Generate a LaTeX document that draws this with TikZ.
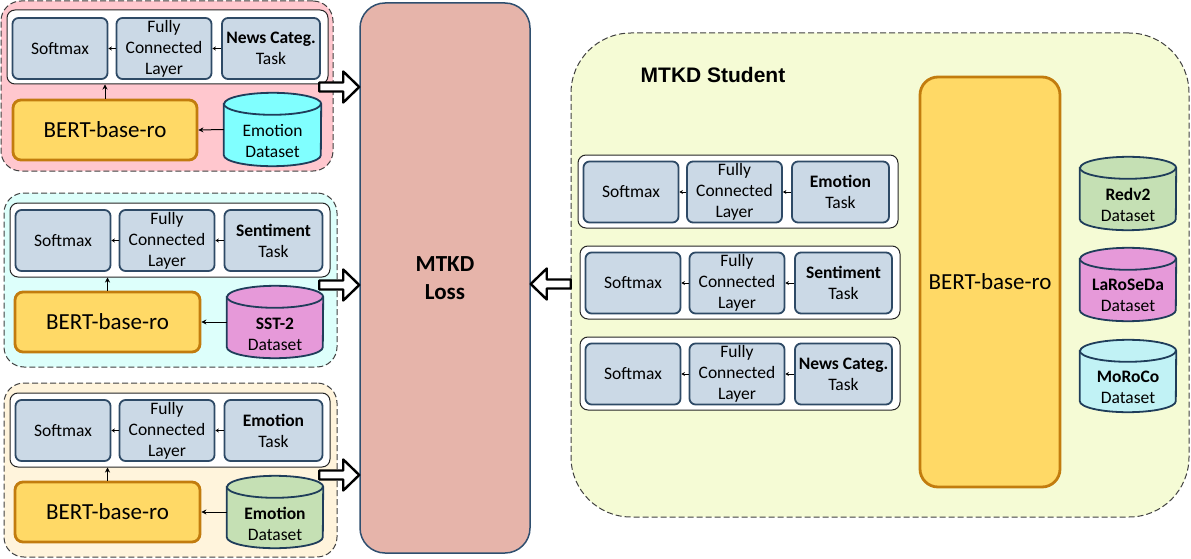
\documentclass[tikz,border=0pt]{standalone}
\usepackage{fontspec}
\setmainfont{Carlito}
\newfontfamily\arialfont{Liberation Sans}
\usetikzlibrary{arrows.meta}
\definecolor{pinkbg}{HTML}{FFC7CE}
\definecolor{cyanbg}{HTML}{DDFFFB}
\definecolor{yellowbg}{HTML}{FFF4DC}
\definecolor{studentbg}{HTML}{F5FBD5}
\definecolor{boxfill}{HTML}{CBD9E6}
\definecolor{boxdraw}{HTML}{2E4A66}
\definecolor{bertfill}{HTML}{FFD966}
\definecolor{bertdraw}{HTML}{C27C0E}
\definecolor{cylline}{HTML}{1F3D5A}
\definecolor{cylcyan}{HTML}{80FFFF}
\definecolor{cylmag}{HTML}{E699D9}
\definecolor{cylgreen}{HTML}{C5E0B4}
\definecolor{cyllcyan}{HTML}{C1F2F5}
\definecolor{lossfill}{HTML}{E6B4AA}
\definecolor{lossdraw}{HTML}{2F4F6F}
\tikzset{
  frame/.style={draw=black!75, dashed, dash pattern=on 6pt off 3pt, line width=1pt, rounded corners=20pt, inner sep=0pt},
  wbox/.style={draw=black!85, fill=white, rounded corners=8pt, line width=1pt, minimum height=74pt, inner sep=0pt},
  tbox/.style={draw=boxdraw, fill=boxfill, rounded corners=6pt, line width=1.8pt, minimum height=61pt, minimum width=95pt, inner sep=0pt, align=center, font=\fontsize{17.5}{21}\selectfont},
  bert/.style={draw=bertdraw, fill=bertfill, rounded corners=8pt, line width=2.8pt, minimum width=184pt, minimum height=60pt, inner sep=0pt, font=\fontsize{23}{28}\selectfont},
  cylspot/.style={inner sep=0pt, minimum width=97pt, minimum height=73pt},
  cyltext/.style={align=center, inner sep=0pt, font=\fontsize{17.5}{21}\selectfont},
  cylline/.style={draw=cylline, line width=1.8pt},
  arr/.style={-{Stealth[length=5pt,width=5pt]}, line width=1pt},
  tiny/.style={-{Stealth[length=3.5pt,width=4pt]}, line width=0.8pt},
  fatarrow/.pic={\draw[line width=2.4pt, fill=white, line join=round] (-40,-4.5) -- (-16,-4.5) -- (-16,-15.5) -- (0,0) -- (-16,15.5) -- (-16,4.5) -- (-40,4.5) -- cycle;}
}
% #1 node name, #2 fill colour, #3 half width (pt)
\newcommand\drawcyl[3]{%
  \begin{scope}[y=1pt]
  \draw[cylline, fill=#2] ([yshift=-11pt]#1.north west) -- ([yshift=11pt]#1.south west)
     arc[start angle=180, end angle=360, x radius=#3pt, y radius=11pt]
     -- ([yshift=-11pt]#1.north east)
     arc[start angle=0, end angle=180, x radius=#3pt, y radius=11pt] -- cycle;
  \draw[cylline] ([yshift=-11pt]#1.north west)
     arc[start angle=180, end angle=360, x radius=#3pt, y radius=11pt];
  \end{scope}}
\begin{document}
\begin{tikzpicture}[x=1pt,y=-1pt]
\useasboundingbox (0,0) rectangle (1191,559);
% ---------- Teacher 1 ----------
\node[frame, fill=pinkbg, minimum width=332pt, minimum height=170pt] (T1) at (167,86) {};
\node[wbox, minimum width=321pt] (i1) at (167.5,47) {};
\node[tbox] (s1) at (60,48.5) {Softmax};
\node[tbox] (f1) at (164,48.5) {Fully\\Connected\\Layer};
\node[tbox, minimum width=98pt] (k1) at (271,48.5) {\textbf{News Categ.}\\Task};
\node[bert] (b1) at (105,130) {BERT-base-ro};
\node[cylspot] (d1) at (272.5,129.5) {};
\drawcyl{d1}{cylcyan}{48.5}
\node[cyltext] (d1t) at ([yshift=-12pt]d1.center) {Emotion\\Dataset};
\draw[tiny] (f1.west) -- (s1.east);
\draw[tiny] (k1.west) -- (f1.east);
\draw[arr] (d1.west) -- (b1.east);
\draw[arr] (b1.north) -- (b1.north |- i1.south);
% ---------- Teacher 2 ----------
\node[frame, fill=cyanbg, minimum width=333pt, minimum height=174pt] (T2) at (170.5,280) {};
\node[wbox, minimum width=320pt] (i2) at (170,240) {};
\node[tbox] (s2) at (63,240.5) {Softmax};
\node[tbox] (f2) at (167,240.5) {Fully\\Connected\\Layer};
\node[tbox, minimum width=98pt] (k2) at (273.5,240.5) {\textbf{Sentiment}\\Task};
\node[bert, minimum width=185pt] (b2) at (107.5,322) {BERT-base-ro};
\node[cylspot, minimum width=96pt, minimum height=72pt] (d2) at (275,322) {};
\drawcyl{d2}{cylmag}{48}
\node[cyltext] (d2t) at ([yshift=-12pt]d2.center) {\textbf{SST-2}\\Dataset};
\draw[tiny] (f2.west) -- (s2.east);
\draw[tiny] (k2.west) -- (f2.east);
\draw[arr] (d2.west) -- (b2.east);
\draw[arr] (b2.north) -- (b2.north |- i2.south);
% ---------- Teacher 3 ----------
\node[frame, fill=yellowbg, minimum width=333pt, minimum height=174pt] (T3) at (170.5,470) {};
\node[wbox, minimum width=320pt] (i3) at (170,430) {};
\node[tbox] (s3) at (63,430.5) {Softmax};
\node[tbox] (f3) at (167,430.5) {Fully\\Connected\\Layer};
\node[tbox, minimum width=98pt] (k3) at (273.5,430.5) {\textbf{Emotion}\\Task};
\node[bert, minimum width=185pt] (b3) at (107.5,512) {BERT-base-ro};
\node[cylspot, minimum width=96pt, minimum height=72pt] (d3) at (275,512) {};
\drawcyl{d3}{cylgreen}{48}
\node[cyltext] (d3t) at ([yshift=-12pt]d3.center) {\textbf{Emotion}\\Dataset};
\draw[tiny] (f3.west) -- (s3.east);
\draw[tiny] (k3.west) -- (f3.east);
\draw[arr] (d3.west) -- (b3.east);
\draw[arr] (b3.north) -- (b3.north |- i3.south);
% ---------- MTKD Loss ----------
\node[draw=lossdraw, fill=lossfill, line width=1.5pt, rounded corners=25pt, minimum width=170pt, minimum height=550pt, inner sep=0pt, align=center, font=\bfseries\fontsize{23}{28}\selectfont] (loss) at (445,278) {MTKD\\Loss};
% ---------- Student ----------
\node[frame, fill=studentbg, rounded corners=60pt, minimum width=618pt, minimum height=484pt] (S) at (880,275) {};
\node[font=\arialfont\bfseries\fontsize{21}{25}\selectfont] (stitle) at (713,75) {MTKD Student};
% row 1
\node[wbox, minimum width=320pt, minimum height=73pt] (r1) at (738,191.5) {};
\node[tbox] (rs1) at (631,192) {Softmax};
\node[tbox] (rf1) at (734.5,192) {Fully\\Connected\\Layer};
\node[tbox, minimum width=97pt] (rk1) at (840.5,192) {\textbf{Emotion}\\Task};
\draw[tiny] (rf1.west) -- (rs1.east);
\draw[tiny] (rk1.west) -- (rf1.east);
% row 2
\node[wbox, minimum width=320pt, minimum height=73pt] (r2) at (740,282.5) {};
\node[tbox] (rs2) at (633,283) {Softmax};
\node[tbox] (rf2) at (737,283) {Fully\\Connected\\Layer};
\node[tbox, minimum width=97pt] (rk2) at (843.5,283) {\textbf{Sentiment}\\Task};
\draw[tiny] (rf2.west) -- (rs2.east);
\draw[tiny] (rk2.west) -- (rf2.east);
% row 3
\node[wbox, minimum width=320pt, minimum height=73pt] (r3) at (740,373.5) {};
\node[tbox] (rs3) at (633,374) {Softmax};
\node[tbox] (rf3) at (737,374) {Fully\\Connected\\Layer};
\node[tbox, minimum width=97pt] (rk3) at (843.5,374) {\textbf{News Categ.}\\Task};
\draw[tiny] (rf3.west) -- (rs3.east);
\draw[tiny] (rk3.west) -- (rf3.east);
% student BERT and datasets
\node[bert, rounded corners=18pt, minimum width=140pt, minimum height=410pt] (sb) at (990,282) {BERT-base-ro};
\node[cylspot, minimum width=96pt] (sd1) at (1128,193.5) {};
\drawcyl{sd1}{cylgreen}{48}
\node[cyltext] (sd1t) at ([yshift=-11pt]sd1.center) {\textbf{Redv2}\\Dataset};
\node[cylspot, minimum width=96pt] (sd2) at (1128,284.5) {};
\drawcyl{sd2}{cylmag}{48}
\node[cyltext] (sd2t) at ([yshift=-11pt]sd2.center) {\textbf{LaRoSeDa}\\Dataset};
\node[cylspot, minimum width=96pt, minimum height=72pt] (sd3) at (1128,376) {};
\drawcyl{sd3}{cyllcyan}{48}
\node[cyltext] (sd3t) at ([yshift=-11pt]sd3.center) {\textbf{MoRoCo}\\Dataset};
% ---------- block arrows ----------
\pic at ([yshift=191pt]loss.west) {fatarrow};
\pic at ([yshift=-7pt]loss.west) {fatarrow};
\pic at ([yshift=-197pt]loss.west) {fatarrow};
\pic[rotate=180] at ([yshift=-6pt]loss.east) {fatarrow};
\end{tikzpicture}
\end{document}
